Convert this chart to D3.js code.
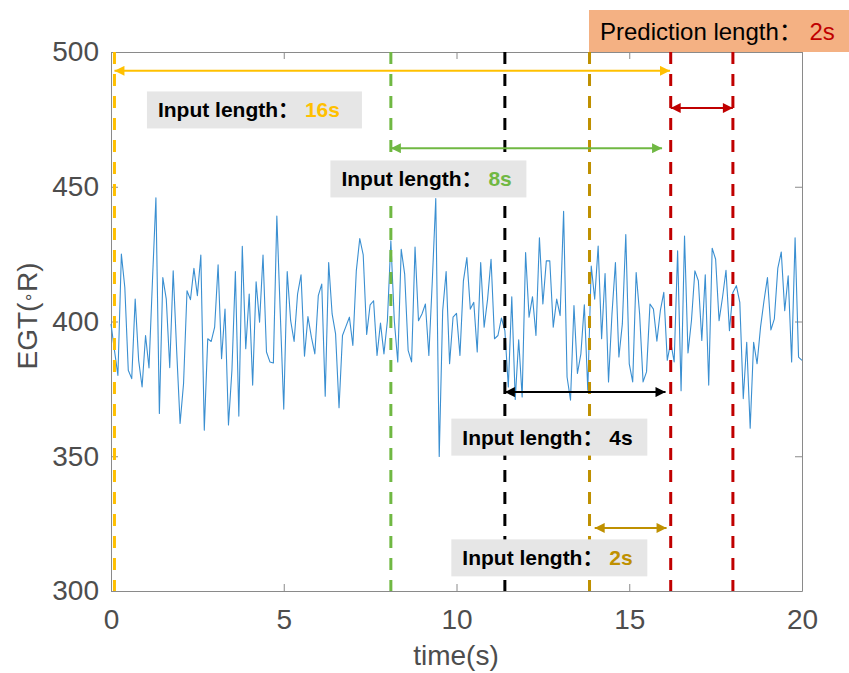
<!DOCTYPE html>
<html>
<head>
<meta charset="utf-8">
<script src="https://cdn.jsdelivr.net/npm/d3@7"></script>
<style>
  body { margin: 0; background: #fff; }
  svg { font-family: "Liberation Sans", Arial, "Noto Sans CJK SC", sans-serif; }
</style>
</head>
<body>
<script>
// EGT samples, one every 0.1 s, split in three stretches of time
const egtA = [399.1, 389.3, 380.0, 425.0, 412.6, 381.9, 378.8, 408.3, 385.6, 375.7,
  394.8, 382.8, 415.1, 445.9, 365.9, 416.3, 408.3, 382.9, 418.8, 389.3,
  362.2, 377.0, 411.4, 408.1, 419.7, 409.6, 424.7, 359.7, 393.6, 392.6,
  397.9, 421.0, 386.2, 404.6, 361.6, 381.9, 418.5, 364.9, 427.9, 389.9,
  410.2, 376.4, 414.7, 399.7, 424.7, 388.7, 385.0, 384.6, 439.1, 402.8,
  367.5, 418.5, 400.3, 392.6, 410.2, 417.3, 387.1, 401.8, 394.2, 388.0,
  409.6, 413.9, 372.3, 421.9, 402.8, 395.4, 368.0];
const egtB = [394.8, 398.2, 401.6, 391.1, 418.8, 430.8, 424.7, 395.2, 406.2, 407.7,
  387.4, 399.4, 388.0, 400.3, 429.9, 400.3, 385.0, 426.8, 417.6, 389.3,
  385.0, 427.6, 400.3, 402.8, 406.5, 387.4, 415.1, 445.6, 349.9, 404.0,
  418.5, 384.3, 401.6, 403.0, 387.4, 415.1, 423.7, 404.6, 407.1, 388.7,
  421.9, 397.9, 408.3, 423.1, 393.6, 394.8, 401.3, 396.6, 375.7, 409.2,
  371.1, 393.2, 372.0, 425.6, 401.6, 409.2, 394.8, 431.1, 406.5, 422.5,
  422.5, 397.9, 408.3, 402.2, 440.9, 379.4, 370.8];
const egtC = [405.9, 380.7, 388.0, 406.2, 374.5, 420.6, 408.3, 428.0, 393.6, 417.8,
  377.6, 402.8, 421.9, 386.8, 399.1, 432.3, 384.3, 377.6, 418.2, 402.8,
  377.6, 381.3, 406.5, 404.6, 392.7, 404.0, 410.8, 385.6, 392.3, 385.0,
  426.2, 374.3, 431.7, 388.3, 400.3, 418.8, 415.1, 393.0, 417.3, 376.4,
  427.2, 423.1, 400.3, 409.0, 419.0, 396.6, 410.8, 413.3, 407.1, 371.4,
  392.3, 360.4, 392.3, 384.3, 397.9, 407.7, 416.3, 396.9, 401.0, 419.8,
  425.8, 404.0, 417.0, 385.0, 431.1, 386.8, 385.6];

const xTicks = [0, 5, 10, 15, 20];
const yTicks = [300, 350, 400, 450, 500];

// window boundaries (s): 16s, 8s, 4s, 2s input starts, prediction start/end
const windowNames = ["16s", "8s", "4s", "2s", "start", "end"];
const windowTimes = [0.1, 8.1, 11.4, 13.85, 16.2, 18.0];
const windowColors = ["#FFC000", "#70B843", "#000000", "#BF9000", "#C00000", "#C00000"];

const labelPrefix = "Input length：";
const inputLengths = ["16s", "8s", "4s", "2s"];
const predictionLength = "2s";

const egt = egtA.concat(egtB, egtC);
const data = egt.map((v, i) => [i / 10, v]);

const w = 849;
const h = 673;
const plotLeft = 111, plotRight = 802, plotTop = 52, plotBottom = 591;

const x = d3.scaleLinear().domain([0, 20]).range([plotLeft, plotRight]);
const y = d3.scaleLinear().domain([300, 500]).range([plotBottom, plotTop]);

const svg = d3.select("body").append("svg").attr("width", w).attr("height", h);

// arrow heads
const defs = svg.append("defs");
windowColors.forEach((c, i) => {
    defs.append("marker")
        .attr("id", "head" + i)
        .attr("viewBox", "0 0 10 10")
        .attr("refX", 10).attr("refY", 5)
        .attr("markerUnits", "userSpaceOnUse")
        .attr("markerWidth", 12).attr("markerHeight", 10)
        .attr("orient", "auto-start-reverse")
        .append("path").attr("d", "M0,0L10,5L0,10Z").attr("fill", c);
});

// axes, ticks inside, box all round
function styleAxis(g) {
    g.attr("font-family", null);
    g.select(".domain").attr("stroke", "#8a8a8a").attr("stroke-width", 1);
    g.selectAll(".tick line").attr("stroke", "#8a8a8a");
    g.selectAll(".tick text").attr("fill", "#4d4d4d").attr("font-size", 28);
}
svg.append("g").attr("transform", "translate(0," + plotBottom + ")")
    .call(d3.axisBottom(x).tickValues(xTicks).tickSizeInner(-7).tickSizeOuter(0).tickPadding(18).tickFormat(d3.format("d")))
    .call(styleAxis);
svg.append("g").attr("transform", "translate(0," + plotTop + ")")
    .call(d3.axisTop(x).tickValues(xTicks).tickSizeInner(-7).tickSizeOuter(0).tickFormat(""))
    .call(styleAxis);
svg.append("g").attr("transform", "translate(" + plotLeft + ",0)")
    .call(d3.axisLeft(y).tickValues(yTicks).tickSizeInner(-7).tickSizeOuter(0).tickPadding(12).tickFormat(d3.format("d")))
    .call(styleAxis);
svg.append("g").attr("transform", "translate(" + plotRight + ",0)")
    .call(d3.axisRight(y).tickValues(yTicks).tickSizeInner(-7).tickSizeOuter(0).tickFormat(""))
    .call(styleAxis);

// EGT trace
const line = d3.line().x(d => x(d[0])).y(d => y(d[1]));
svg.append("path")
    .datum(data)
    .attr("d", line)
    .attr("fill", "none")
    .attr("stroke", "#3a8fd1")
    .attr("stroke-width", 1.1)
    .attr("stroke-linejoin", "round");

// dashed window boundaries
svg.selectAll(".bound")
    .data(windowTimes)
    .enter()
    .append("line")
    .attr("class", "bound")
    .attr("x1", d => x(d)).attr("x2", d => x(d))
    .attr("y1", y(500)).attr("y2", y(300))
    .attr("stroke", (d, i) => windowColors[i])
    .attr("stroke-width", 3)
    .attr("stroke-dasharray", "12,10");

// double arrows: [from, to, level, colour index]
const arrows = [
    [windowTimes[0], windowTimes[4] - 0.02, 493, 0],
    [windowTimes[1], 15.95, 464.3, 1],
    [windowTimes[2], 16.05, 373.8, 2],
    [14.0, 16.08, 323.4, 3],
    [windowTimes[4], windowTimes[5], 479.2, 4]
];
svg.selectAll(".arrow")
    .data(arrows)
    .enter()
    .append("line")
    .attr("class", "arrow")
    .attr("x1", d => x(d[0])).attr("x2", d => x(d[1]))
    .attr("y1", d => y(d[2])).attr("y2", d => y(d[2]))
    .attr("stroke", d => windowColors[d[3]])
    .attr("stroke-width", 2)
    .attr("marker-start", d => "url(#head" + d[3] + ")")
    .attr("marker-end", d => "url(#head" + d[3] + ")");

// grey label boxes: [left time, level, width]
const boxes = [[1.04, 478.5, 215], [6.35, 452.9, 196], [9.85, 357.1, 196], [9.85, 312.3, 196]];
boxes.forEach((b, i) => {
    const bx = x(b[0]), by = y(b[1]);
    svg.append("rect")
        .attr("x", bx).attr("y", by - 18.5)
        .attr("width", b[2]).attr("height", 37)
        .attr("fill", "#e6e6e6");
    const t = svg.append("text")
        .attr("x", bx + 11).attr("y", by + 7.5)
        .attr("font-size", 21).attr("font-weight", "bold");
    t.append("tspan").attr("fill", "#000").text(labelPrefix + " ");
    t.append("tspan").attr("fill", windowColors[i]).text(inputLengths[i]);
});

// prediction label, above the plot
svg.append("rect")
    .attr("x", 589).attr("y", 10)
    .attr("width", 262).attr("height", 42)
    .attr("fill", "#F4B183");
const pt = svg.append("text").attr("x", 600).attr("y", 40).attr("font-size", 24);
pt.append("tspan").attr("fill", "#000").text("Prediction length： ");
pt.append("tspan").attr("fill", "#C00000").text(predictionLength);

// axis titles
svg.append("text")
    .attr("x", 456).attr("y", 665)
    .attr("text-anchor", "middle")
    .attr("font-size", 28).attr("fill", "#4d4d4d")
    .text("time(s)");
const yt = svg.append("text")
    .attr("transform", "translate(37,316) rotate(-90)")
    .attr("text-anchor", "middle")
    .attr("font-size", 28).attr("fill", "#4d4d4d");
yt.append("tspan").text("EGT(");
yt.append("tspan").attr("font-size", 17).attr("font-family", "DejaVu Sans").attr("dy", -3).text("∘");
yt.append("tspan").attr("dy", 3).text("R)");
</script>
</body>
</html>
